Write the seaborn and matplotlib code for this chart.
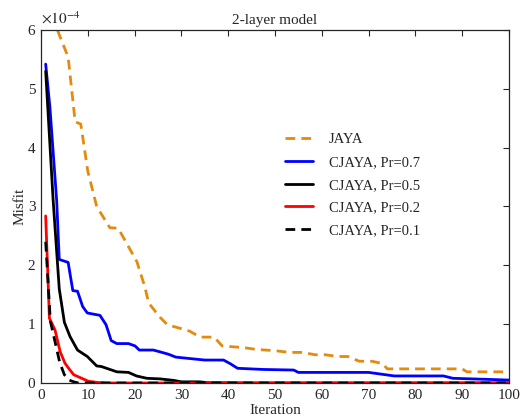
import matplotlib
matplotlib.use("Agg")
import matplotlib.pyplot as plt
import seaborn as sns
import pandas as pd

# Breakpoints (iteration, misfit in units of 1e-4)
jaya_it = [1, 3.5, 5.8, 7.3, 8.5, 10, 11.9, 14.7, 16.5, 20.5, 22.2, 23, 25.4, 27, 29.7, 31.8, 34, 37, 38.7, 43.5, 46, 50, 53, 56, 58.5, 60.7, 63.5, 65.6, 68, 70.7, 73, 74, 90, 91, 100]
jaya_v = [7.2, 6.0, 5.54, 4.44, 4.4, 3.6, 3.0, 2.64, 2.63, 2.06, 1.63, 1.36, 1.12, 0.99, 0.93, 0.88, 0.78, 0.78, 0.63, 0.60, 0.57, 0.55, 0.52, 0.52, 0.48, 0.48, 0.45, 0.45, 0.37, 0.37, 0.33, 0.24, 0.24, 0.19, 0.19]

p07_it = [1, 1.9, 3.35, 3.9, 5.8, 6.8, 7.8, 8.9, 9.9, 12.6, 13.9, 15, 16.2, 18.7, 20.1, 21, 24, 25.4, 27.2, 28.8, 32.5, 35, 39, 40.4, 42, 47.5, 54, 55, 70, 75.5, 86, 88, 100]
p07_v = [5.42, 4.69, 3.1, 2.1, 2.05, 1.57, 1.56, 1.30, 1.19, 1.15, 0.99, 0.72, 0.67, 0.67, 0.63, 0.56, 0.56, 0.53, 0.49, 0.44, 0.41, 0.39, 0.39, 0.33, 0.25, 0.23, 0.22, 0.18, 0.18, 0.12, 0.12, 0.08, 0.05]

p05_it = [1, 2.6, 3.9, 5, 6.2, 7.8, 9.9, 11.9, 12.9, 16.2, 18.7, 20.4, 22.6, 25.4, 28.3, 30, 34, 35.5, 45, 100]
p05_v = [5.3, 3.1, 1.6, 1.03, 0.79, 0.56, 0.45, 0.29, 0.28, 0.19, 0.18, 0.12, 0.08, 0.07, 0.045, 0.02, 0.02, 0.005, 0.0, 0.0]

p02_it = [1, 1.8, 3, 4.1, 5.1, 5.9, 7, 8.7, 10.1, 12, 14, 100]
p02_v = [2.84, 1.1, 0.9, 0.53, 0.34, 0.25, 0.14, 0.08, 0.03, 0.01, 0.0, 0.0]

p01_it = [1, 2, 3, 4, 5, 6, 7, 8, 100]
p01_v = [2.4, 1.05, 0.7, 0.35, 0.14, 0.05, 0.02, 0.0, 0.0]

labels = ["JAYA", "CJAYA, Pr=0.7", "CJAYA, Pr=0.5", "CJAYA, Pr=0.2", "CJAYA, Pr=0.1"]
colors = ["#E38A0F", "#0000FF", "#000000", "#FF0000", "#000000"]

sns.set_theme(style="white")
plt.rcParams["font.family"] = ["Liberation Serif", "DejaVu Serif"]
plt.rcParams["mathtext.fontset"] = "stix"

fig = plt.figure(figsize=(5.2, 4.18), dpi=100)
ax = fig.add_axes([41 / 520, 1 - 383 / 418, 468 / 520, 353 / 418])

series = [(jaya_it, jaya_v), (p07_it, p07_v), (p05_it, p05_v), (p02_it, p02_v), (p01_it, p01_v)]
styles = [(0, (3.5, 2.2)), "-", "-", "-", (0, (3.5, 2.2))]
for (xs, ys), lab, col, ls in zip(series, labels, colors, styles):
    df = pd.DataFrame({"it": xs, "v": ys})
    sns.lineplot(data=df, x="it", y="v", ax=ax, color=col, linewidth=2.0,
                 linestyle=ls, label=lab, sort=False, legend=False)
line_objs = ax.get_lines()[:5]

ax.set_xlim(0, 100)
ax.set_ylim(0, 6)
ax.set_xticks(range(0, 101, 10))
ax.set_yticks(range(0, 7))
ax.tick_params(direction="in", length=4, width=0.8, top=True, right=True,
               labelsize=11, colors="#262626", pad=4)
for s in ax.spines.values():
    s.set_color("#262626")
    s.set_linewidth(0.9)
    s.set_visible(True)

ax.set_title("2-layer model", fontsize=11, pad=4)
ax.set_xlabel("Iteration", fontsize=11, labelpad=2)
ax.set_ylabel("Misfit", fontsize=11, labelpad=1)
ax.text(0.0, 1.01, r"$\times10^{-4}$", transform=ax.transAxes, fontsize=11,
        ha="left", va="bottom", color="#262626")

leg = ax.legend(line_objs, labels, loc="upper left", bbox_to_anchor=(0.494, 0.745),
                frameon=False, fontsize=10.5, handlelength=1.9, labelspacing=0.65,
                handletextpad=1.1)

fig.savefig("out.png", dpi=100)
